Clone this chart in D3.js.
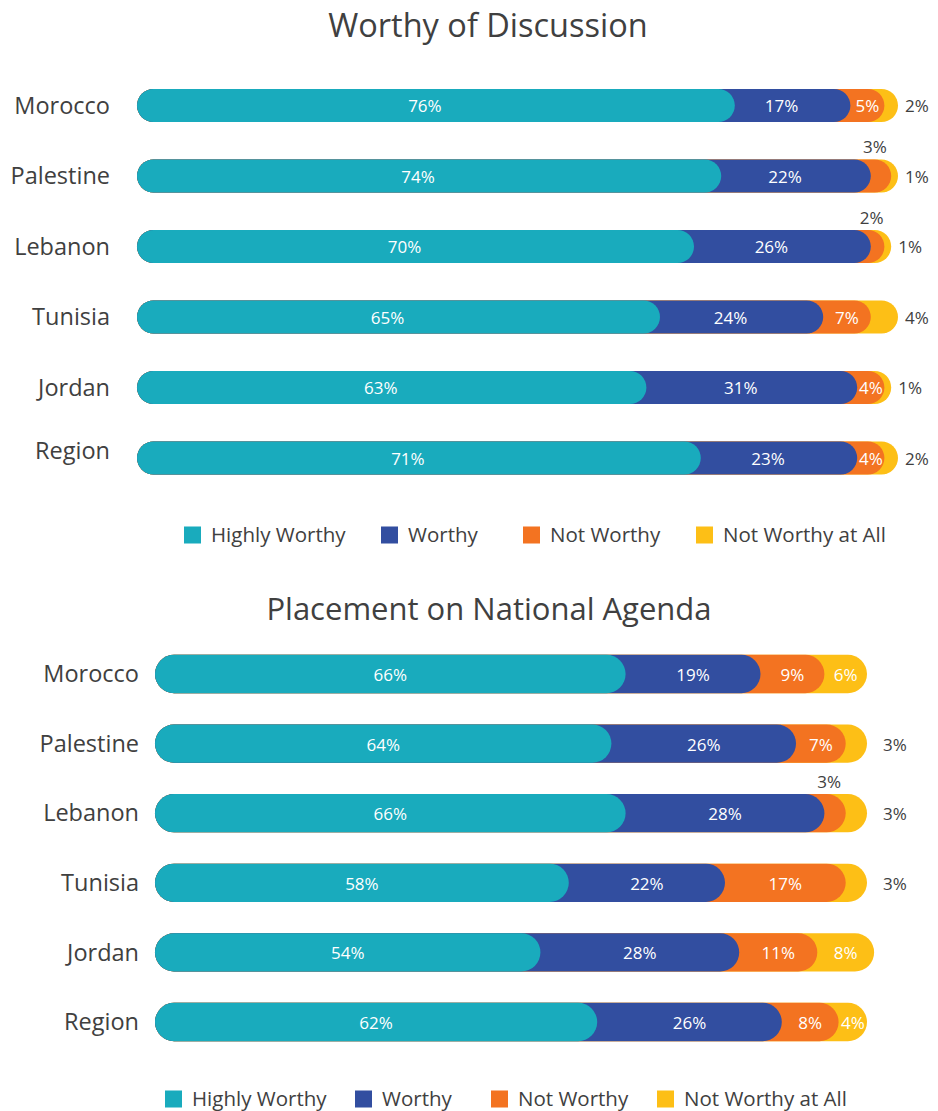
<!DOCTYPE html>
<html>
<head>
<meta charset="utf-8">
<script src="https://cdn.jsdelivr.net/npm/d3@7"></script>
<style>
  body { margin: 0; background: #fff; }
  svg { display: block; font-family: "Open Sans", Lato, sans-serif; }
</style>
</head>
<body>
<div id="container"></div>
<script>
// data
const countries = ["Morocco", "Palestine", "Lebanon", "Tunisia", "Jordan", "Region"];
const seriesNames = ["Highly Worthy", "Worthy", "Not Worthy", "Not Worthy at All"];
const colors = ["#19abbd", "#324ea0", "#f37321", "#fdbf16"];

// worthy of discussion (%)
const discHighly = [76, 74, 70, 65, 63, 71];
const discWorthy = [17, 22, 26, 24, 31, 23];
const discNot = [5, 3, 2, 7, 4, 4];
const discNotAll = [2, 1, 1, 4, 1, 2];

// placement on national agenda (%)
const agendaHighly = [66, 64, 66, 58, 54, 62];
const agendaWorthy = [19, 26, 28, 22, 28, 26];
const agendaNot = [9, 7, 3, 17, 11, 8];
const agendaNotAll = [6, 3, 3, 3, 8, 4];

const w = 938, h = 1111;

const svg = d3.select("#container")
  .append("svg")
  .attr("width", w)
  .attr("height", h);

// one panel = title + stacked pill bars + legend
function drawPanel(cfg) {
  const g = svg.append("g");
  const series = cfg.series;

  const x = d3.scaleLinear().domain([0, 100]).range(cfg.xRange);
  const y = d3.scaleBand()
    .domain(countries)
    .range(cfg.yRange)
    .paddingInner(cfg.pad)
    .paddingOuter(cfg.pad / 2);
  const bh = y.bandwidth();
  const r = bh / 2;

  // title
  g.append("text")
    .attr("x", cfg.titleX)
    .attr("y", cfg.titleY)
    .attr("text-anchor", "middle")
    .attr("font-size", cfg.titleSize)
    .attr("fill", "#404040")
    .text(cfg.title);

  // country labels
  g.selectAll(".country")
    .data(countries)
    .enter()
    .append("text")
    .attr("class", "country")
    .attr("x", cfg.labelX)
    .attr("y", (d, i) => y(d) + r + (cfg.labelDy[i] || 0))
    .attr("dy", "0.35em")
    .attr("text-anchor", "end")
    .attr("font-size", 23.5)
    .attr("fill", "#404040")
    .text(d => d);

  // cumulative ends for each row
  const rows = countries.map((c, i) => {
    let cum = 0;
    return series.map((s, k) => {
      const start = cum;
      cum += s[i];
      return { country: c, k: k, value: s[i], start: start, end: cum };
    });
  });

  const rowG = g.selectAll(".row")
    .data(rows)
    .enter()
    .append("g")
    .attr("class", "row")
    .attr("transform", d => `translate(0,${y(d[0].country)})`);

  // layers drawn back to front, each a pill from the left edge
  rowG.selectAll("rect")
    .data(d => d.slice().reverse())
    .enter()
    .append("rect")
    .attr("x", cfg.left)
    .attr("y", 0)
    .attr("width", d => x(d.end) - cfg.left)
    .attr("height", bh)
    .attr("rx", r)
    .attr("fill", d => colors[d.k]);

  // value labels
  rowG.selectAll(".val")
    .data(d => d)
    .enter()
    .append("text")
    .attr("class", "val")
    .each(function(d) {
      const last = d.k === series.length - 1;
      const x0 = d.k === 0 ? cfg.left : x(d.start);
      const x1 = x(d.end);
      const t = d3.select(this).attr("font-size", 17);
      let mode = "in";
      if (last && d.value < cfg.lastInsideMin) mode = "right";
      else if (!last && d.value <= 3) mode = "above";
      if (mode === "in") {
        t.attr("x", (x0 + x1) / 2 + (d.k === 0 || d.k === 1 ? cfg.labelShift : 0))
          .attr("y", r + 1)
          .attr("dy", "0.35em")
          .attr("text-anchor", "middle")
          .attr("fill", "#ffffff");
      } else if (mode === "right") {
        t.attr("x", x1 + cfg.rightGap)
          .attr("y", r + 1)
          .attr("dy", "0.35em")
          .attr("text-anchor", "start")
          .attr("fill", "#404040");
      } else {
        t.attr("x", (x0 + x1) / 2 - 6)
          .attr("y", -12)
          .attr("dy", "0.35em")
          .attr("text-anchor", "middle")
          .attr("fill", "#404040");
      }
    })
    .text(d => d.value + "%");

  // legend
  const lg = g.selectAll(".legend")
    .data(seriesNames)
    .enter()
    .append("g")
    .attr("class", "legend")
    .attr("transform", (d, i) => `translate(${cfg.legendX[i]},${cfg.legendY})`);
  lg.append("rect")
    .attr("x", 0)
    .attr("y", -8.5)
    .attr("width", 17)
    .attr("height", 17)
    .attr("fill", (d, i) => colors[i]);
  lg.append("text")
    .attr("x", 27)
    .attr("y", 0)
    .attr("dy", "0.35em")
    .attr("font-size", 20.5)
    .attr("fill", "#404040")
    .text(d => d);
}

drawPanel({
  title: "Worthy of Discussion",
  titleX: 488, titleY: 37, titleSize: 32.5,
  series: [discHighly, discWorthy, discNot, discNotAll],
  left: 137, xRange: [218, 898],
  yRange: [70.25, 493.25], pad: 0.53,
  labelX: 110, labelDy: [0, 0, 0, 0, 0, -7],
  labelShift: -11, lastInsideMin: Infinity, rightGap: 7,
  legendX: [184, 381, 523, 696], legendY: 535
});

drawPanel({
  title: "Placement on National Agenda",
  titleX: 489, titleY: 620, titleSize: 31,
  series: [agendaHighly, agendaWorthy, agendaNot, agendaNotAll],
  left: 155, xRange: [157, 867],
  yRange: [639.2, 1056.8], pad: 0.45,
  labelX: 139, labelDy: [0, 0, 0, 0, 0, 0],
  labelShift: 0, lastInsideMin: 4, rightGap: 16,
  legendX: [165, 355, 491, 657], legendY: 1099
});
</script>
</body>
</html>
